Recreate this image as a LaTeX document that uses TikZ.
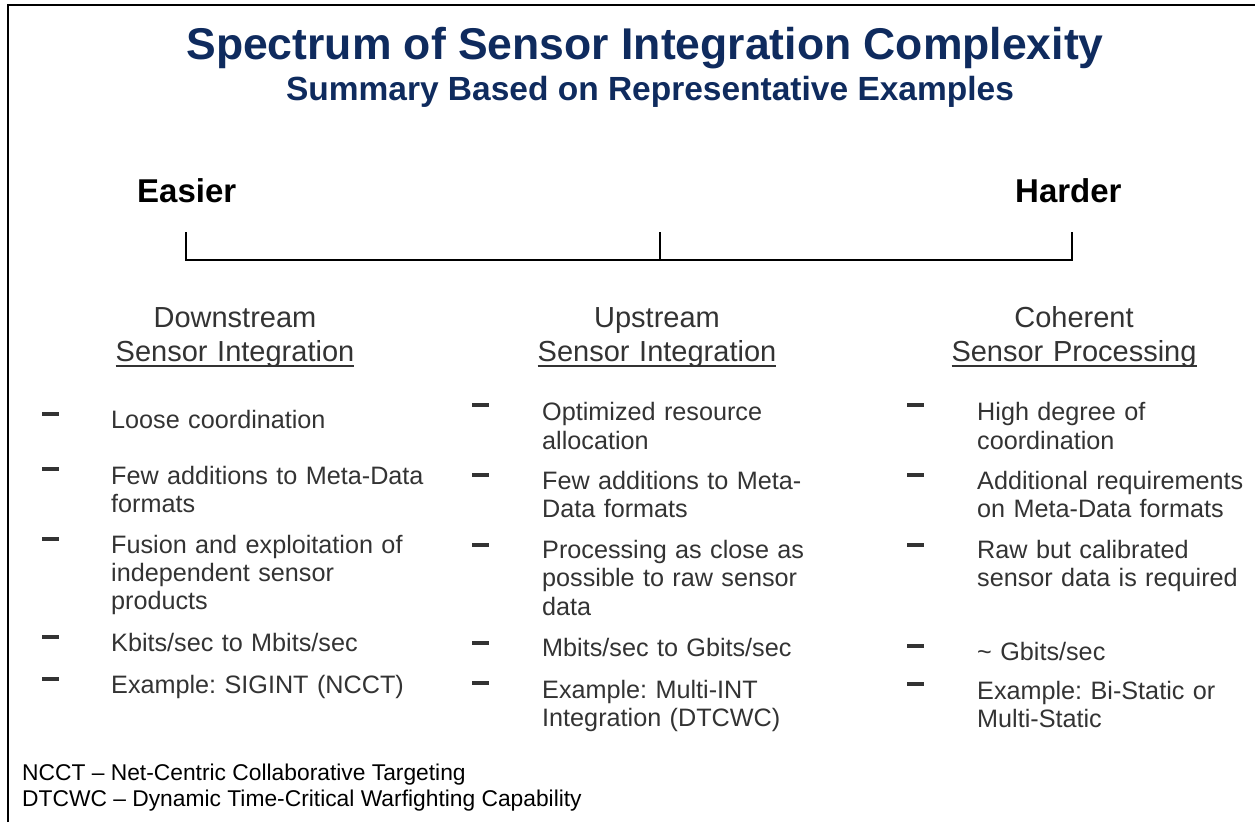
\documentclass[tikz,border=0pt]{standalone}
\usepackage{fontspec}
\setmainfont{Liberation Sans}
\frenchspacing
\usetikzlibrary{positioning}
\definecolor{titleblue}{rgb}{0.06, 0.17, 0.37}
\definecolor{bodygray}{rgb}{0.2, 0.2, 0.2}
\newsavebox{\hdbox}
\newcommand{\hdunder}[1]{\leavevmode\sbox{\hdbox}{#1}\rlap{\rule[-6pt]{\wd\hdbox}{1.8pt}}\usebox{\hdbox}}
\tikzset{maintitle/.style = {anchor=base, inner sep=0, text=titleblue,
                             font=\bfseries\fontsize{44.5}{50}\selectfont}}
\tikzset{subtitle/.style = {anchor=base, inner sep=0, text=titleblue,
                            font=\bfseries\fontsize{33.5}{38}\selectfont}}
\tikzset{endlabel/.style = {anchor=base west, inner sep=0,
                            font=\bfseries\fontsize{33}{38}\selectfont}}
\tikzset{colhead/.style = {anchor=base, inner sep=0, text=bodygray, text width=300pt,
                           align=center, font=\fontsize{29}{34}\selectfont}}
\tikzset{itemtext/.style = {anchor=base west, inner sep=0, text=bodygray, text width=320pt,
                            align=left, font=\fontsize{25.2}{28.4}\selectfont}}
\tikzset{bulletmark/.style = {fill=bodygray, minimum width=17pt, minimum height=4pt, inner sep=0}}
\tikzset{footnote/.style = {anchor=base west, inner sep=0, font=\fontsize{22.8}{26}\selectfont}}
\tikzset{bracketline/.style = {line width=1.8pt}}

\begin{document}
\begin{tikzpicture}[x=1pt, y=-1pt]
      \useasboundingbox (0, 0) rectangle (1255, 822);
      \draw [line width=2pt] (8, 822) -- (8, 5) -- (1255, 5);

      \node [maintitle] (title) at (645, 59.5) {Spectrum of Sensor Integration Complexity};
      \node [subtitle] (subtitle) at (650, 100) {Summary Based on Representative Examples};

      \node [endlabel] (easier) at (137, 202) {Easier};
      \node [endlabel] (harder) at (1015, 202) {Harder};
      \coordinate (easyend) at (186, 232);
      \coordinate (midtick) at (660, 232);
      \coordinate (hardend) at (1072, 232);
      \draw [bracketline] (easyend) -- ++(0, 28) -| (hardend);
      \draw [bracketline] (midtick) -- ++(0, 28);

      \node [colhead] (downhead) at (235, 327) {Downstream\\\hdunder{Sensor Integration}};
      \node [colhead] (uphead) at (657, 327) {Upstream\\\hdunder{Sensor Integration}};
      \node [colhead] (cohhead) at (1074, 327) {Coherent\\\hdunder{Sensor Processing}};

      \node [bulletmark] (downdash1) at (50, 414) {};
      \node [itemtext] (down1) at (111, 428) {Loose coordination};
      \node [bulletmark] (downdash2) at (50, 469) {};
      \node [itemtext] (down2) at (111, 484.3) {Few additions to Meta-Data\\formats};
      \node [bulletmark] (downdash3) at (50, 539) {};
      \node [itemtext] (down3) at (111, 553) {Fusion and exploitation of\\independent sensor\\products};
      \node [bulletmark] (downdash4) at (50, 637) {};
      \node [itemtext] (down4) at (111, 651.7) {Kbits/sec to Mbits/sec};
      \node [bulletmark] (downdash5) at (50, 679) {};
      \node [itemtext] (down5) at (111, 693) {Example: SIGINT (NCCT)};

      \node [bulletmark] (updash1) at (480, 405) {};
      \node [itemtext] (up1) at (542, 420.7) {Optimized resource\\allocation};
      \node [bulletmark] (updash2) at (480, 475) {};
      \node [itemtext] (up2) at (542, 489.3) {Few additions to Meta-\\Data formats};
      \node [bulletmark] (updash3) at (480, 545) {};
      \node [itemtext] (up3) at (542, 558.3) {Processing as close as\\possible to raw sensor\\data};
      \node [bulletmark] (updash4) at (480, 643) {};
      \node [itemtext] (up4) at (542, 656.7) {Mbits/sec to Gbits/sec};
      \node [bulletmark] (updash5) at (480, 683) {};
      \node [itemtext] (up5) at (542, 698.3) {Example: Multi-INT\\Integration (DTCWC)};

      \node [bulletmark] (cohdash1) at (915, 405) {};
      \node [itemtext] (coh1) at (977, 420.7) {High degree of\\coordination};
      \node [bulletmark] (cohdash2) at (915, 475) {};
      \node [itemtext] (coh2) at (977, 489.3) {Additional requirements\\on Meta-Data formats};
      \node [bulletmark] (cohdash3) at (915, 545) {};
      \node [itemtext] (coh3) at (977, 558.3) {Raw but calibrated\\sensor data is required};
      \node [bulletmark] (cohdash4) at (915, 646) {};
      \node [itemtext] (coh4) at (977, 660) {\textasciitilde{} Gbits/sec};
      \node [bulletmark] (cohdash5) at (915, 684) {};
      \node [itemtext] (coh5) at (977, 699) {Example: Bi-Static or\\Multi-Static};

      \node [footnote] (ncct) at (22, 780) {NCCT – Net-Centric Collaborative Targeting};
      \node [footnote] (dtcwc) at (22, 806) {DTCWC – Dynamic Time-Critical Warfighting Capability};
    \end{tikzpicture}
\end{document}
